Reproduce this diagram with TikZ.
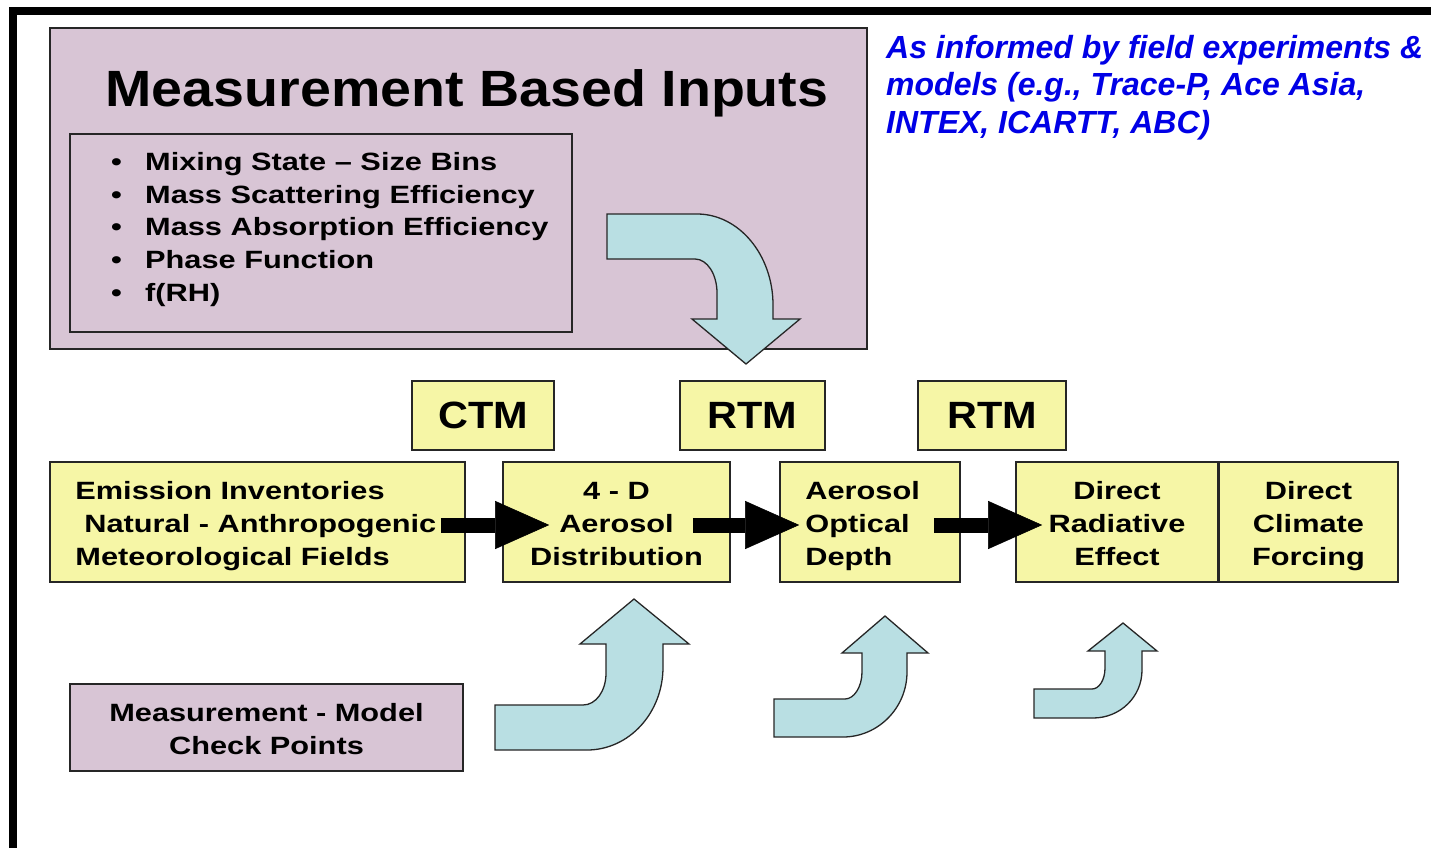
\documentclass[tikz,border=0pt]{standalone}
\usepackage{fontspec}
\setmainfont{Liberation Sans}
\newfontfamily\widefont[FakeStretch=1.23]{Liberation Sans}
\newfontfamily\titlefont[FakeStretch=1.09]{Liberation Sans}
\usetikzlibrary{arrows.meta,calc}
\definecolor{mauve}{RGB}{216,197,213}
\definecolor{paleyellow}{RGB}{246,246,166}
\definecolor{paleblue}{RGB}{185,223,227}
\definecolor{noteblue}{RGB}{0,0,230}

\begin{document}
\begin{tikzpicture}[x=1pt,y=-1pt,
  panel/.style={draw=black!85, line width=1.6pt},
  inbox/.style={panel, fill=mauve},
  stage/.style={panel, fill=paleyellow, minimum height=120pt, inner sep=0pt},
  bodytext/.style={inner sep=0pt, font=\widefont\bfseries\fontsize{25}{33}\selectfont},
  model/.style={panel, fill=paleyellow, minimum height=69pt, inner sep=0pt,
    font=\titlefont\bfseries\fontsize{38}{40}\selectfont},
  flow/.style={line width=15pt, -{Triangle[length=54pt,width=48pt,line width=0.5pt]}},
  curvearrow/.style={draw=black!85, line width=1.3pt, fill=paleblue},
]
\useasboundingbox (0,0) rectangle (1431,848);
\fill[white] (0,0) rectangle (1431,848);

% page frame (top and left edges)
\fill[black] (9,7) rectangle (1431,15);
\fill[black] (9,7) rectangle (17,848);

% measurement based inputs panel
\node[inbox, minimum width=817pt, minimum height=321pt] (inputs) at (458.5,188.5) {};
\node[font=\titlefont\bfseries\fontsize{51}{55}\selectfont] (title) at (467,93) {Measurement Based Inputs};
\node[inbox, minimum width=502pt, minimum height=198pt] (props) at (321,233) {};
\node[anchor=west, align=left, inner sep=0pt,
  font=\widefont\bfseries\fontsize{25}{32.75}\selectfont] (proplist) at (111,229.5)
  {\makebox[34pt][l]{•}Mixing State – Size Bins\\
   \makebox[34pt][l]{•}Mass Scattering Efficiency\\
   \makebox[34pt][l]{•}Mass Absorption Efficiency\\
   \makebox[34pt][l]{•}Phase Function\\
   \makebox[34pt][l]{•}f(RH)};

% side note
\node[anchor=west, align=left, inner sep=0pt, text=noteblue,
  font=\bfseries\itshape\fontsize{32}{37.5}\selectfont] (note) at (886,87.5)
  {As informed by field experiments \&\\models (e.g., Trace-P, Ace Asia,\\INTEX, ICARTT, ABC)};

% model labels
\node[model, minimum width=142pt] (ctm) at (483,415.5) {CTM};
\node[model, minimum width=145pt] (rtma) at (752.5,415.5) {RTM};
\node[model, minimum width=148pt] (rtmb) at (992,415.5) {RTM};

% processing chain: boxes
\node[stage, minimum width=415pt] (emis) at (257.5,522) {};
\node[stage, minimum width=227pt] (d4) at (616.5,522) {};
\node[stage, minimum width=180pt] (aod) at (870,522) {};
\node[stage, minimum width=202pt] (dre) at (1117,522) {};
\node[stage, minimum width=179pt] (dcf) at (1308.5,522) {};

% processing chain: labels
\node[bodytext, anchor=west, align=left] (emislabel) at ([xshift=26pt,yshift=-4pt]emis.west)
  {Emission Inventories\\\hspace*{9pt}Natural - Anthropogenic\\Meteorological Fields};
\node[bodytext, align=center] (d4label) at ([yshift=-2.5pt]d4.center) {4 - D\\Aerosol\\Distribution};
\node[bodytext, anchor=west, align=left] (aodlabel) at ([xshift=26pt,yshift=-4pt]aod.west)
  {Aerosol\\Optical\\Depth};
\node[bodytext, align=center] (drelabel) at ([yshift=-1.5pt]dre.center) {Direct\\Radiative\\Effect};
\node[bodytext, align=center] (dcflabel) at ([yshift=-4.5pt]dcf.center) {Direct\\Climate\\Forcing};

% check points
\node[inbox, minimum width=393pt, minimum height=87pt] (check) at (266.5,727.5) {};
\node[bodytext, align=center] (checklabel) at ([yshift=-2pt]check.center)
  {Measurement - Model\\Check Points};

% flow arrows
\draw[flow] ([xshift=-25pt,yshift=-3pt]emis.east) -- ([xshift=47pt,yshift=-3pt]d4.west);
\draw[flow] ([xshift=-38pt,yshift=-3pt]d4.east) -- ([xshift=20pt,yshift=-3pt]aod.west);
\draw[flow] ([xshift=-27pt,yshift=-3pt]aod.east) -- ([xshift=27pt,yshift=-3pt]dre.west);

% curved block arrows
\draw[curvearrow] (607,214) -- (697,214) .. controls (739,214) and (773,255) .. (773,305)
  -- (773,319) -- (800,319) -- (746,364) -- (692,319) -- (717,319) -- (717,293)
  .. controls (717,274) and (707,259) .. (695,259) -- (607,259) -- cycle;
\draw[curvearrow] (495,705) -- (583,705) .. controls (596,705) and (606,691) .. (606,673)
  -- (606,644) -- (580,644) -- (634,599) -- (689,644) -- (663,644) -- (663,667)
  .. controls (663,713) and (629,750) .. (587,750) -- (495,750) -- cycle;
\draw[curvearrow] (774,699) -- (845,699) .. controls (854,699) and (862,687) .. (862,672)
  -- (862,653) -- (842,653) -- (885,616) -- (928,653) -- (907,653) -- (907,672)
  .. controls (907,708) and (878,737) .. (843,737) -- (774,737) -- cycle;
\draw[curvearrow] (1034,689) -- (1092,689) .. controls (1099,689) and (1105,680) .. (1105,668)
  -- (1105,651) -- (1088,651) -- (1123,623) -- (1157,651) -- (1142,651) -- (1142,670)
  .. controls (1142,697) and (1120,718) .. (1093,718) -- (1034,718) -- cycle;
\end{tikzpicture}
\end{document}
